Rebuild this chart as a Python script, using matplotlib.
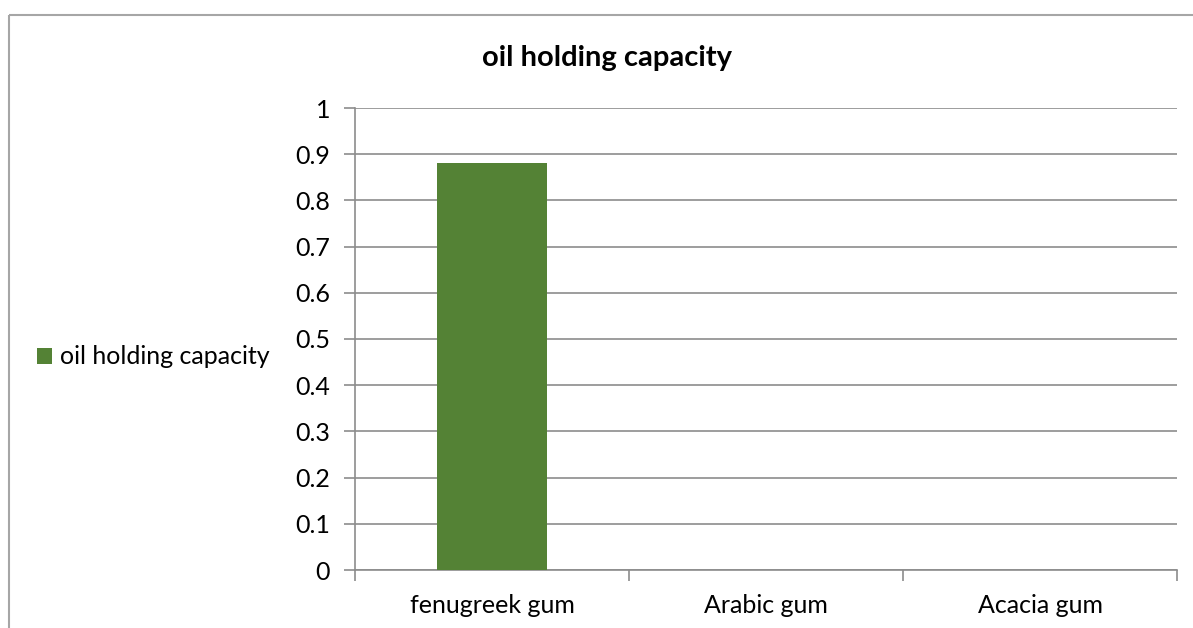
import numpy as np
import matplotlib.pyplot as plt
from matplotlib.patches import Rectangle

plt.rcParams['font.family'] = ['Lato', 'DejaVu Sans']

### DATA
categories = ['fenugreek gum', 'Arabic gum', 'Acacia gum']
values = [0.88, 0, 0]
series_name = 'oil holding capacity'
yticks = [0, 0.1, 0.2, 0.3, 0.4, 0.5, 0.6, 0.7, 0.8, 0.9, 1]

W, H = 1193, 628
fig = plt.figure(figsize=(W/100, H/100), dpi=100)

# outer chart border (cut off at right and bottom)
fig.patches.append(Rectangle((9/W, 1 - 15/H), 1.2, -1.2, transform=fig.transFigure,
                             fill=False, edgecolor='#a6a6a6', linewidth=1.5))

ax = fig.add_axes([355/W, 1 - 570/H, (1177-355)/W, (570-108)/H])
x = np.arange(len(categories))
bars = ax.bar(x, values, width=0.4, color='#548235', label=series_name, zorder=3)

ax.set_xlim(-0.5, len(categories) - 0.5)
ax.set_ylim(0, 1)
ax.set_yticks(yticks)
ax.set_yticklabels([f'{v:g}' for v in yticks])
ax.yaxis.grid(True, color='#8c8c8c', linewidth=1.2, zorder=0)
ax.set_axisbelow(True)

for s in ['top', 'right']:
    ax.spines[s].set_visible(False)
ax.spines['left'].set_color('#8c8c8c')
ax.spines['bottom'].set_color('#8c8c8c')
ax.spines['left'].set_linewidth(1.2)
ax.spines['bottom'].set_linewidth(1.2)

ax.set_xticks(x)
ax.set_xticklabels(categories, fontsize=18)
ax.tick_params(axis='x', length=0, pad=17)
ax.set_xticks(np.arange(len(categories) + 1) - 0.5, minor=True)
ax.tick_params(axis='x', which='minor', length=8, color='#8c8c8c', width=1.2)
ax.tick_params(axis='y', length=8, color='#8c8c8c', width=1.2, labelsize=18, pad=10)

fig.text(607/W, 1 - 58/H, 'oil holding capacity', ha='center', va='center',
         fontsize=21, fontweight='bold')

fig.legend(handles=[bars], labels=[series_name], loc='center left',
           bbox_to_anchor=(27/W, 1 - 357/H), frameon=False, fontsize=18,
           handlelength=0.6, handleheight=0.6, handletextpad=0.3, borderaxespad=0)

fig.savefig('out.png', dpi=100)
